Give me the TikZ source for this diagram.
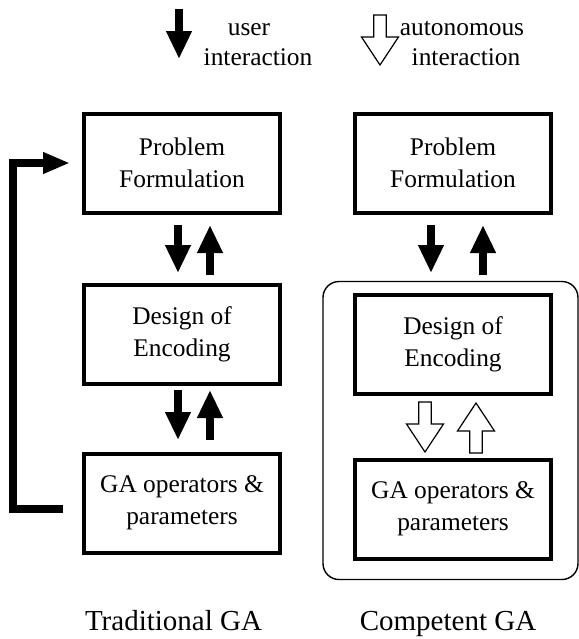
\documentclass[tikz,border=0pt]{standalone}
\usepackage{fontspec}
\setmainfont{Liberation Serif}
\usepackage{tikz}
\usetikzlibrary{arrows.meta,calc,positioning}
\tikzset{%
	block/.style    = {draw, rectangle, line width=2pt, minimum width=98pt, minimum height=49.5pt, align=center, font=\fontsize{12.7}{16}\selectfont},
	legend/.style   = {anchor=base, font=\fontsize{12.7}{16}\selectfont},
	caption/.style  = {anchor=base, font=\fontsize{14.5}{17}\selectfont},
	fatarrow/.style = {line width=4.25pt, -{Triangle[width=12pt,length=14pt]}},
	backarrow/.style= {line width=4pt, line join=miter, -{Triangle[width=10pt,length=13.5pt]}},
	hollow/.style   = {draw, fill=white, line width=0.6pt, line join=miter},
	group/.style    = {draw, line width=0.7pt, rounded corners=8pt},
}
% open block arrow, tip at #1, rotated by #2 (0 = down)
\newcommand{\openarrow}[2]{%
	\draw[hollow, shift={(#1)}, rotate=#2] (0pt,0pt) -- (-9.25pt,14pt) -- (-3.1pt,14pt) -- (-3.1pt,25pt) -- (3.1pt,25pt) -- (3.1pt,14pt) -- (9.25pt,14pt) -- cycle;}

\begin{document}
\begin{tikzpicture}[x=0.5pt, y=-0.5pt]
	\useasboundingbox (0,0) rectangle (579,639);
	% legend
	\coordinate (ua) at (179,9);
	\coordinate (ub) at (179,59);
	\draw[fatarrow] (ua) -- (ub);
	\node[legend] (usr) at (249,35) {user};
	\node[legend] (uint) at (258,65) {interaction};
	\openarrow{380,65}{0}
	\node[legend] (aut) at (462,35) {autonomous};
	\node[legend] (aint) at (466,65) {interaction};
	% traditional GA
	\node[block] (pfL) at (182,163) {Problem\\Formulation};
	\node[block,below=34pt of pfL] (deL) {Design of\\Encoding};
	\node[block,below=33pt of deL] (gaL) {GA operators \&\\parameters};
	\draw[fatarrow,shorten <=5.25pt,shorten >=4.75pt] ([xshift=-2pt]pfL.south) -- ([xshift=-2pt]deL.north);
	\draw[fatarrow,shorten <=3.75pt,shorten >=5.25pt] ([xshift=14pt]deL.north) -- ([xshift=14pt]pfL.south);
	\draw[fatarrow,shorten <=2.25pt,shorten >=5.75pt] ([xshift=-2pt]deL.south) -- ([xshift=-2pt]gaL.north);
	\draw[fatarrow,shorten <=5.75pt,shorten >=2.25pt] ([xshift=14pt]gaL.north) -- ([xshift=14pt]deL.south);
	\draw[backarrow,shorten >=6pt] ([shift={(-9.5pt,-2.75pt)}]gaL.west) -- ++(-25pt,0pt) |- (pfL.west);
	% competent GA
	\node[block] (pfR) at (453,163) {Problem\\Formulation};
	\node[block,below=39pt of pfR] (deR) {Design of\\Encoding};
	\node[block,below=31pt of deR] (gaR) {GA operators \&\\parameters};
	\draw[group] ($(deR.north west)+(-15pt,5.5pt)$) rectangle ($(gaR.south east)+(12.5pt,-9.5pt)$);
	\draw[fatarrow,shorten <=5.25pt,shorten >=9.75pt] ([xshift=-11pt]pfR.south) -- ([xshift=-11pt]deR.north);
	\draw[fatarrow,shorten <=8.75pt,shorten >=5.25pt] ([xshift=15pt]deR.north) -- ([xshift=15pt]pfR.south);
	\openarrow{$(gaR.north)+(-14pt,2.75pt)$}{0}
	\openarrow{$(deR.south)+(11.5pt,-3.75pt)$}{180}
	% captions
	\node[caption] (trad) at (173.5,630) {Traditional GA};
	\node[caption] (comp) at (448,630) {Competent GA};
\end{tikzpicture}
\end{document}
